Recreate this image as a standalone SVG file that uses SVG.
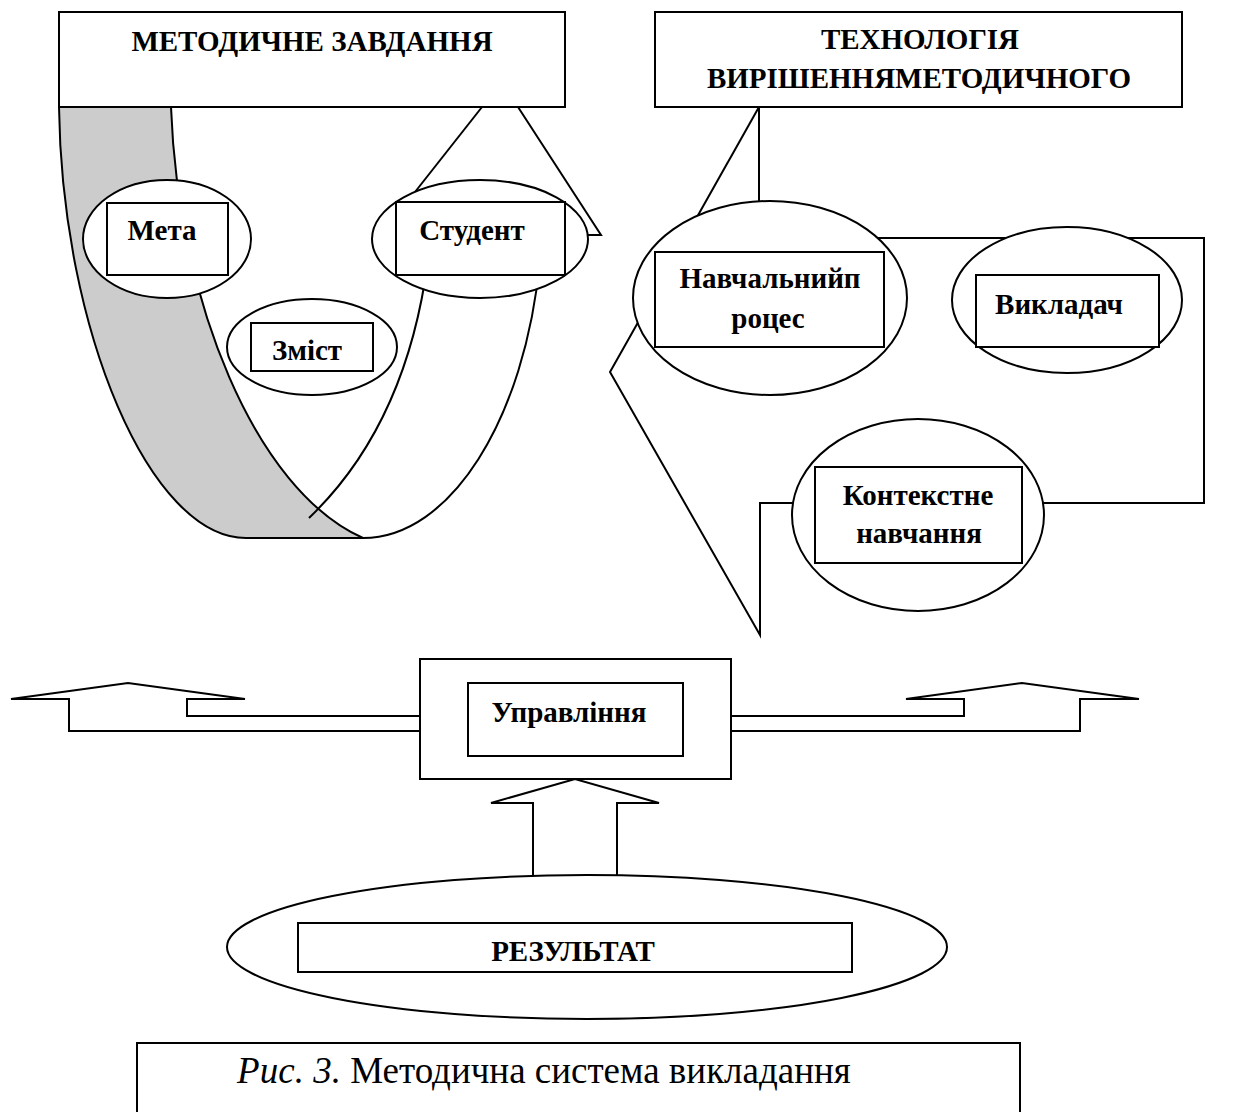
<svg xmlns="http://www.w3.org/2000/svg" width="1243" height="1112" viewBox="0 0 1243 1112">
<style>
.ln{fill:none;stroke:#000;stroke-width:2;stroke-linejoin:miter}
.sh{fill:#fff;stroke:#000;stroke-width:2}
.t{font-family:"Liberation Serif","Times New Roman",serif;font-weight:bold;font-size:29px;fill:#000;text-anchor:middle}
.cap{font-family:"Liberation Serif","Times New Roman",serif;font-size:37px;fill:#000;text-anchor:middle}
</style>
<rect width="1243" height="1112" fill="#fff"/>
<g id="connectors">
  <path d="M59,107 L171,107 C178,300 255,490 363,538 L246,538 C150,538 62,330 59,107 Z" fill="#cccccc" stroke="#000" stroke-width="2"/>
  <path class="ln" d="M309,518 C380,450 415,360 428,260"/>
  <path class="ln" d="M363,538 C450,538 525,420 540,260"/>
  <path class="ln" d="M482,107 L415,192"/>
  <path class="ln" d="M518,107 L601,235 L586,235"/>
  <path class="ln" d="M759,107 L759,215"/>
  <path class="ln" d="M759,107 L697,217"/>
  <path class="ln" d="M850,238 L1204,238 L1204,503 L1000,503"/>
  <path class="ln" d="M850,503 L760,503 L760,635 L610,372 L645,310"/>
  <path class="ln" d="M420,716 L187,716 L187,699 L245,699 L128,683 L11,699 L69,699 L69,731 L420,731"/>
  <path class="ln" d="M731,716 L964,716 L964,699 L906,699 L1022,683 L1139,699 L1080,699 L1080,731 L731,731"/>
  <path class="ln" d="M533,880 L533,803 L491,803 L575,779 L659,803 L617,803 L617,880"/>
</g>
<g id="node-zavdannia">
  <rect class="sh" x="59" y="12" width="506" height="95"/>
  <text class="t" x="312" y="51">МЕТОДИЧНЕ ЗАВДАННЯ</text>
</g>
<g id="node-meta">
  <ellipse class="sh" cx="167" cy="239" rx="84" ry="59"/>
  <rect class="sh" x="107" y="203" width="121" height="72"/>
  <text class="t" x="162" y="240">Мета</text>
</g>
<g id="node-student">
  <ellipse class="sh" cx="480" cy="239" rx="108" ry="59"/>
  <rect class="sh" x="396" y="202" width="169" height="73"/>
  <text class="t" x="472" y="240">Студент</text>
</g>
<g id="node-zmist">
  <ellipse class="sh" cx="312" cy="347" rx="85" ry="48"/>
  <rect class="sh" x="251" y="323" width="122" height="48"/>
  <text class="t" x="307" y="360">Зміст</text>
</g>
<g id="node-tekhnolohiia">
  <rect class="sh" x="655" y="12" width="527" height="95"/>
  <text class="t" x="920" y="49">ТЕХНОЛОГІЯ</text>
  <text class="t" x="919" y="88">ВИРІШЕННЯМЕТОДИЧНОГО</text>
</g>
<g id="node-navchalnyi">
  <ellipse class="sh" cx="770" cy="298" rx="137" ry="97"/>
  <rect class="sh" x="655" y="252" width="229" height="95"/>
  <text class="t" x="770" y="288">Навчальнийп</text>
  <text class="t" x="768" y="328">роцес</text>
</g>
<g id="node-vykladach">
  <ellipse class="sh" cx="1067" cy="300" rx="115" ry="73"/>
  <rect class="sh" x="976" y="275" width="183" height="72"/>
  <text class="t" x="1059" y="314">Викладач</text>
</g>
<g id="node-kontekstne">
  <ellipse class="sh" cx="918" cy="515" rx="126" ry="96"/>
  <rect class="sh" x="815" y="467" width="207" height="96"/>
  <text class="t" x="918" y="505">Контекстне</text>
  <text class="t" x="919" y="543">навчання</text>
</g>
<g id="node-upravlinnia">
  <rect class="sh" x="420" y="659" width="311" height="120"/>
  <rect class="sh" x="468" y="683" width="215" height="73"/>
  <text class="t" x="569" y="722">Управління</text>
</g>
<g id="node-rezultat">
  <ellipse class="sh" cx="587" cy="947" rx="360" ry="72"/>
  <rect class="sh" x="298" y="923" width="554" height="49"/>
  <text class="t" x="573" y="961">РЕЗУЛЬТАТ</text>
</g>
<g id="caption">
  <rect class="sh" x="137" y="1043" width="883" height="100"/>
  <text class="cap" x="544" y="1083"><tspan font-style="italic">Рис. 3.</tspan> Методична система викладання</text>
</g>
</svg>
